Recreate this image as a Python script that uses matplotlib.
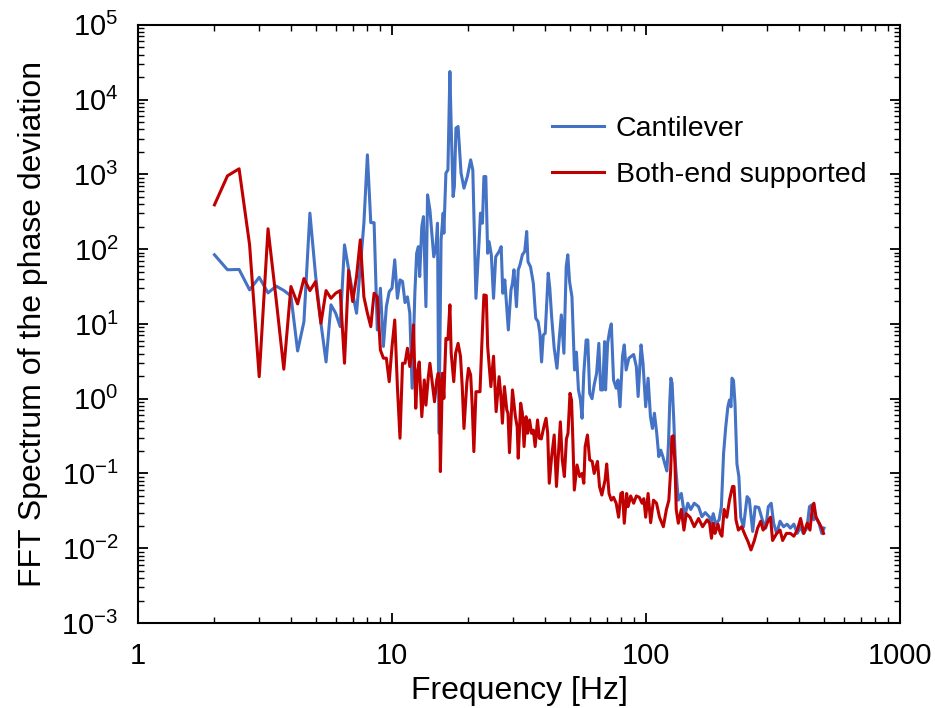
import math
import matplotlib
matplotlib.use("Agg")
import matplotlib.pyplot as plt
from matplotlib.ticker import FuncFormatter, LogLocator, NullFormatter

plt.rcParams['font.family'] = ['Liberation Sans', 'DejaVu Sans']
plt.rcParams['mathtext.fontset'] = 'custom'
plt.rcParams['mathtext.rm'] = 'Liberation Sans'
plt.rcParams['mathtext.default'] = 'regular'

# Cantilever spectrum
freq_cantilever = [
    2.0, 2.25, 2.5, 2.75, 3.0, 3.25, 3.5, 3.75, 4.0, 4.25, 4.5, 4.75, 5.0, 5.25, 5.5, 5.75,
    6.0, 6.25, 6.5, 6.75, 7.0, 7.25, 7.5, 7.75, 8.0, 8.25, 8.5, 8.75, 9.0, 9.25, 9.5, 9.75,
    10.0, 10.25, 10.5, 10.75, 11.0, 11.25, 11.5, 11.75, 12.0, 12.3, 12.5, 12.7, 12.85, 13.1,
    13.3, 13.6, 13.8, 14.1, 14.6, 14.9, 15.1, 15.3, 15.6, 15.9, 16.0, 16.3, 16.6, 16.9, 17.1,
    17.4, 17.6, 17.85, 18.2, 18.7, 19.2, 19.8, 20.4, 20.8, 21.4, 22.0, 22.3, 22.7, 23.0, 23.4,
    23.8, 24.1, 24.6, 25.1, 25.6, 26.4, 26.9, 27.3, 27.8, 28.7, 29.4, 29.8, 30.2, 30.9, 31.4,
    31.9, 32.6, 33.3, 33.9, 34.3, 35.1, 36.0, 36.8, 37.6, 38.2, 38.8, 39.4, 40.1, 41.2, 41.8,
    42.5, 43.5, 44.6, 45.5, 46.4, 47.5, 48.5, 49.2, 50.0, 51.1, 52.3, 53.2, 54.2, 55.2, 56.0,
    56.9, 58.1, 59.0, 60.0, 61.3, 62.5, 63.9, 65.2, 66.3, 67.5, 68.7, 69.3, 70.6, 72.0, 73.0,
    74.5, 76.3, 77.5, 79.0, 80.8, 82.1, 83.5, 85.6, 87.7, 89.4, 91.6, 93.1, 95.6, 97.3, 99.7,
    101.9, 104.1, 106.0, 107.9, 110.2, 112.3, 114.3, 116.5, 118.6, 120.8, 122.6, 124.0, 125.3,
    126.7, 128.6, 130.5, 134, 137.7, 142, 146, 150, 154.8, 161, 166, 171, 178, 180, 184, 188,
    194, 198, 202, 206, 210, 213, 216, 218, 221, 224, 228, 232, 236, 242, 250, 255, 263, 269,
    278, 287, 296, 303, 311, 318, 327, 337, 348, 359, 370, 382, 394, 406, 416, 430, 440, 449,
    457, 467, 481, 492, 502,
]
amp_cantilever = [
    84, 53, 53.5, 28.5, 42, 26, 32, 28, 23.7, 4.35, 10.7, 303, 45, 10.2, 3.1, 18,
    13.9, 9.2, 114, 53, 25.7, 13.9, 58, 222, 1823, 226, 226, 8.3, 30, 5.0, 17, 27,
    30, 72, 22, 38.8, 37, 19.3, 23, 13.9, 1.38, 25.7, 88, 108, 43, 200,
    272, 17, 532, 335, 79, 108, 222, 0.345, 133, 303, 163, 1038, 1148, 23700, 4365,
    505, 687, 4150, 4365, 1038, 653, 935, 1563, 1148, 22, 120, 303, 222, 935, 935,
    88, 126, 84, 22, 79, 93, 108, 25.7, 38.8, 8.3, 28.5, 35, 53, 17, 53,
    61.5, 84, 93, 172, 68, 58, 35, 11.9, 10.7, 7.5, 3.1, 7.1, 7.5, 47.7, 30,
    12.5, 4.73, 2.55, 6.1, 13.2, 4.05, 58, 84, 36.8, 23, 2.42, 4.2, 1.31, 0.96, 0.547,
    2.19, 6.1, 6.1, 1.18, 1.0, 1.53, 2.19, 5.5, 1.31, 1.31, 5.8, 1.31, 5.5, 8.3, 10,
    1.78, 1.38, 1.78, 0.78, 3.7, 5.24, 2.42, 3.48, 3.7, 3.9, 2.69, 1.07, 5.24, 2.98, 0.78,
    1.88, 0.575, 0.40, 0.64, 0.345, 0.168, 0.205, 0.168, 0.134, 0.108, 0.252, 0.9, 1.88,
    1.6, 0.52, 0.137, 0.044, 0.054, 0.0264, 0.04, 0.033, 0.04, 0.036, 0.0264, 0.03, 0.026, 0.0216, 0.029, 0.021,
    0.024, 0.036, 0.186, 0.42, 0.78, 0.96, 0.78, 1.88, 1.75, 0.87, 0.134, 0.091, 0.026, 0.0194, 0.049, 0.045, 0.0168, 0.036,
    0.035, 0.024, 0.0186, 0.036, 0.04, 0.0216, 0.0158, 0.023, 0.0194, 0.021, 0.0186, 0.021, 0.0158, 0.0194, 0.0158, 0.0186, 0.036, 0.038,
    0.024, 0.026, 0.021, 0.0158, 0.0186,
]

# Both-end supported spectrum
freq_both = [
    2.0, 2.25, 2.5, 2.75, 3.0, 3.25, 3.5, 3.75, 4.0, 4.25, 4.5, 4.75, 5.0, 5.25, 5.5, 5.75,
    6.0, 6.25, 6.5, 6.75, 7.0, 7.25, 7.5, 7.75, 8.0, 8.25, 8.5, 8.75, 9.0, 9.25, 9.5, 9.75,
    10.0, 10.25, 10.5, 10.75, 11.0, 11.25, 11.5, 11.75, 12.0, 12.15, 12.4, 12.6, 12.8, 13.1,
    13.4, 13.6, 13.9, 14.1, 14.7, 15.0, 15.2, 15.35, 15.5, 15.8, 16.0, 16.3, 16.6, 16.9, 17.1,
    17.5, 17.8, 18.2, 18.6, 18.9, 19.2, 19.7, 20.0, 20.4, 20.7, 21.0, 21.4, 22.2, 22.5, 23.0,
    23.5, 23.8, 24.5, 25.1, 25.7, 26.4, 26.8, 27.2, 27.7, 28.3, 28.6, 29.0, 29.8, 30.6, 31.1,
    31.4, 32.1, 32.6, 33.1, 33.7, 34.2, 34.8, 35.4, 36.0, 36.6, 37.4, 38.0, 38.7, 39.6, 40.4,
    41.0, 41.6, 42.5, 43.5, 44.4, 45.2, 46.0, 46.8, 47.7, 48.6, 49.3, 50.2, 50.9, 51.5, 52.2,
    53.5, 54.8, 56.0, 56.9, 57.6, 58.8, 60.0, 61.4, 62.5, 64.4, 65.6, 67.0, 69.0, 70.0, 71.5,
    73.0, 74.5, 76.3, 78.0, 79.6, 80.8, 82.1, 83.9, 85.0, 87.0, 89.4, 91.6, 94.1, 96.5, 98.0,
    99.7, 101.9, 104.3, 107.0, 110.0, 113.0, 117.0, 120.3, 123.0, 125.0, 126.4, 128.0, 130.0,
    131.5, 134.0, 137.7, 141, 144, 149, 154.8, 161, 167, 174, 178, 181, 184, 187, 192, 196,
    199, 203, 208, 213, 219, 222, 226, 231, 238, 245, 252, 259, 267, 275, 283, 289, 296, 304,
    309, 315, 327, 337, 345, 357, 370, 382, 394, 406, 418, 431, 442, 452, 458, 467, 481, 492, 500,
]
amp_both = [
    391, 955, 1186, 114, 1.97, 187, 21, 2.48, 31.6, 18.5, 40.4, 27.9, 36.8, 10.2, 27.9, 22,
    25.7, 27.9, 2.98, 51.6, 19.9, 43, 133, 23, 13.9, 9.2, 25.7, 23, 4.49, 3.48, 3.48, 1.69,
    4.97, 11.3, 1.45, 0.296, 2.98, 2.98, 4.73, 2.69, 4.5, 9.7, 0.745, 2.3, 3.1, 0.575,
    1.78, 0.82, 1.97, 2.98, 0.91, 1.78, 2.19, 1.78, 0.106, 2.19, 1.01, 6.4, 6.2, 18, 4.05,
    1.69, 4.05, 5.5, 3.7, 1.45, 0.40, 1.61, 2.55, 2.08, 0.78, 0.196, 1.24, 1.24, 4.05, 24.4,
    24, 4.97, 1.45, 3.7, 0.67, 1.97, 1.12, 0.47, 1.45, 0.71, 0.64, 0.19, 1.31, 0.575, 0.42,
    0.16, 0.87, 0.64, 0.229, 0.575, 0.345, 0.52, 0.345, 0.38, 0.229, 0.52, 0.296, 0.29, 0.42, 0.547,
    0.345, 0.074, 0.168, 0.327, 0.067, 0.186, 0.49, 0.152, 0.091, 0.29, 0.345, 1.18, 0.96, 0.29, 0.06,
    0.13, 0.091, 0.1, 0.074, 0.229, 0.327, 0.152, 0.145, 0.1, 0.145, 0.067, 0.0515, 0.082, 0.134, 0.054,
    0.044, 0.048, 0.04, 0.026, 0.054, 0.056, 0.0216, 0.054, 0.036, 0.05, 0.04, 0.05, 0.048, 0.04, 0.046,
    0.026, 0.054, 0.022, 0.044, 0.04, 0.026, 0.0194, 0.033, 0.044, 0.108, 0.31, 0.32, 0.137,
    0.033, 0.0216, 0.033, 0.0175, 0.029, 0.026, 0.0194, 0.025, 0.0194, 0.024, 0.0216, 0.0136, 0.0216, 0.0158, 0.021, 0.0158,
    0.0145, 0.033, 0.026, 0.044, 0.067, 0.067, 0.024, 0.0175, 0.0194, 0.0152, 0.0123, 0.0095, 0.0127, 0.0186, 0.023, 0.0175, 0.0194, 0.024,
    0.026, 0.0127, 0.0158, 0.0175, 0.0127, 0.0158, 0.0158, 0.0145, 0.0175, 0.025, 0.0158, 0.0216, 0.0175, 0.036, 0.04, 0.026, 0.0216, 0.0186, 0.0158,
]

fig = plt.figure(figsize=(9.35, 7.08), dpi=100)
ax = fig.add_axes([0.1476, 0.120, 0.815, 0.845])

ax.plot(freq_cantilever, amp_cantilever, color='#4472C4', lw=2.2, label='Cantilever')
ax.plot(freq_both, amp_both, color='#C00000', lw=2.2, label='Both-end supported')

ax.set_xscale('log')
ax.set_yscale('log')
ax.set_xlim(1, 1000)
ax.set_ylim(1e-3, 1e5)

ax.xaxis.set_major_formatter(FuncFormatter(lambda v, p: '%g' % v))
ax.yaxis.set_major_locator(LogLocator(base=10, numticks=20))
ax.yaxis.set_minor_locator(LogLocator(base=10, subs=range(2, 10), numticks=20))
ax.yaxis.set_minor_formatter(NullFormatter())
ax.yaxis.set_major_formatter(FuncFormatter(lambda v, p: r'$10^{%d}$' % round(math.log10(v))))

ax.tick_params(which='both', direction='in', top=True, right=True, labelsize=21)
ax.tick_params(which='major', length=7, width=1.3, pad=14)
ax.tick_params(which='minor', length=4, width=1.0)
for s in ax.spines.values():
    s.set_linewidth(1.5)

ax.set_xlabel('Frequency [Hz]', fontsize=23, labelpad=4)
ax.set_ylabel('FFT Spectrum of the phase deviation', fontsize=23, labelpad=10)

ax.legend(loc='upper left', bbox_to_anchor=(0.513, 0.885), frameon=False, fontsize=20.5,
          handlelength=1.85, handletextpad=0.4, labelspacing=0.7, borderaxespad=0.4)

fig.savefig('out.png', dpi=100)
